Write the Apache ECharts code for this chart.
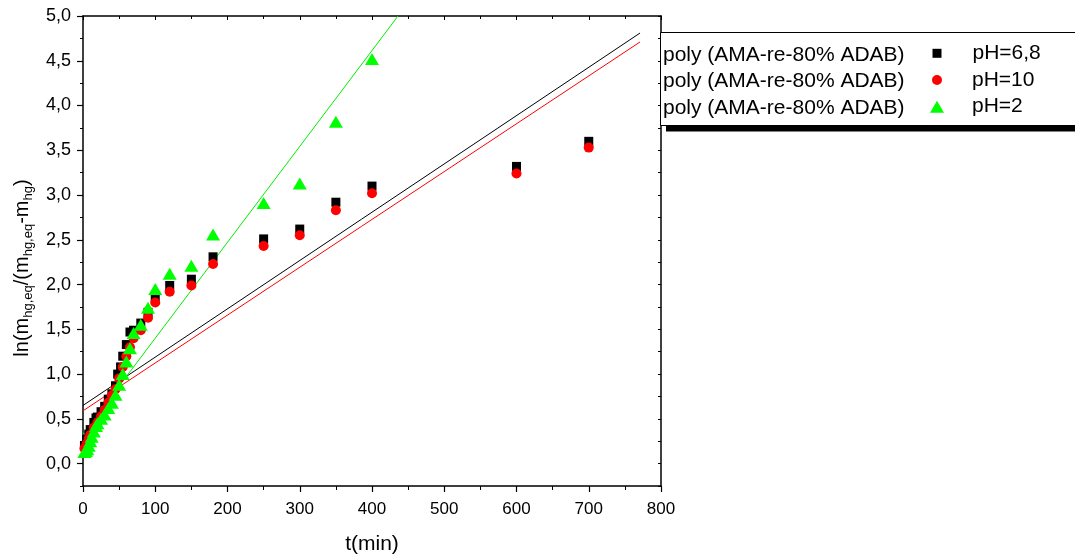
<!DOCTYPE html>
<html>
<head>
<meta charset="utf-8">
<script src="https://cdn.jsdelivr.net/npm/echarts@6/dist/echarts.min.js"></script>
<style>
html,body{margin:0;padding:0;background:#fff;}
#chart{width:1075px;height:559px;}
</style>
</head>
<body>
<div id="chart"></div>
<script>
// ---- data ----
var tBlack = [2, 5, 8, 10, 15, 18, 20, 25, 30, 35, 40, 45, 48, 52, 55, 60, 65, 70, 80, 90, 100, 120, 150, 180, 250, 300, 350, 400, 600, 700];
var yBlack = [0.20, 0.27, 0.33, 0.38, 0.46, 0.51, 0.52, 0.58, 0.64, 0.72, 0.78, 0.87, 1.00, 1.08, 1.20, 1.33, 1.47, 1.49, 1.57, 1.69, 1.86, 1.99, 2.06, 2.31, 2.51, 2.62, 2.92, 3.10, 3.32, 3.60];

var tRed = [2, 5, 8, 10, 15, 20, 25, 30, 35, 40, 45, 50, 55, 60, 65, 70, 80, 90, 100, 120, 150, 180, 250, 300, 350, 400, 600, 700];
var yRed = [0.17, 0.22, 0.28, 0.32, 0.40, 0.46, 0.53, 0.60, 0.68, 0.76, 0.83, 0.95, 1.08, 1.20, 1.30, 1.40, 1.49, 1.63, 1.80, 1.92, 1.99, 2.23, 2.43, 2.55, 2.83, 3.02, 3.24, 3.53];

var tGreen = [2, 4, 6, 8, 10, 12, 15, 18, 20, 25, 30, 35, 40, 45, 50, 55, 60, 65, 70, 80, 90, 100, 120, 150, 180, 250, 300, 350, 400];
var yGreen = [0.13, 0.14, 0.16, 0.20, 0.25, 0.30, 0.36, 0.42, 0.45, 0.50, 0.55, 0.62, 0.68, 0.77, 0.88, 1.00, 1.14, 1.29, 1.46, 1.55, 1.74, 1.95, 2.12, 2.21, 2.56, 2.91, 3.13, 3.82, 4.52];

// fitted straight lines: [t, y] end points
var fitBlack = [[0, 0.65], [771, 4.81]];
var fitRed = [[0, 0.59], [771, 4.71]];
var fitGreen = [[0, 0.33], [436, 5.0]];

var xTicks = [0, 100, 200, 300, 400, 500, 600, 700, 800];
var yTicks = [0, 0.5, 1, 1.5, 2, 2.5, 3, 3.5, 4, 4.5, 5];

var seriesNames = ['pH=6,8', 'pH=10', 'pH=2'];
var sampleName = 'poly (AMA-re-80% ADAB)';

function pairs(xs, ys) { return xs.map(function (x, i) { return [x, ys[i]]; }); }

var chart = echarts.init(document.getElementById('chart'));
var font = 'Arial, "Liberation Sans", sans-serif';
var axisLineStyle = { color: '#000', width: 1.5 };

function yFmt(v) { return v.toFixed(1).replace('.', ','); }

var legendText = { fontFamily: font, fontSize: 21, color: '#000', lineHeight: 22 };

var option = {
  backgroundColor: '#fff',
  animation: false,
  grid: { left: 83, right: 414, top: 16, bottom: 73, containLabel: false, outerBoundsMode: 'none' },
  xAxis: [{
    type: 'value', min: 0, max: 800, interval: 100, position: 'bottom',
    name: 't(min)', nameLocation: 'middle', nameGap: 48,
    nameTextStyle: { fontFamily: font, fontSize: 21, color: '#000' },
    axisLine: { show: true, onZero: false, lineStyle: axisLineStyle },
    axisTick: { show: true, length: 6, inside: false, lineStyle: { color: '#000', width: 1.2 }, customValues: xTicks },
    minorTick: { show: true, splitNumber: 2, length: 4, lineStyle: { color: '#000', width: 1 } },
    axisLabel: { fontFamily: font, fontSize: 17, color: '#000', margin: 15, customValues: xTicks },
    splitLine: { show: false }
  }, {
    type: 'value', min: 0, max: 800, interval: 100, position: 'top',
    axisLine: { show: true, onZero: false, lineStyle: axisLineStyle },
    axisTick: { show: true, length: 4, inside: true, lineStyle: { color: '#000', width: 1 } },
    minorTick: { show: true, splitNumber: 2, length: 3, lineStyle: { color: '#000', width: 1 } },
    axisLabel: { show: false },
    splitLine: { show: false }
  }],
  yAxis: [{
    type: 'value', min: -0.25, max: 5, interval: 0.25, position: 'left',
    name: '{n|ln(m}{s|hg,eq}{n|/(m}{s|hg,eq}{n|-m}{s|hg}{n|)}',
    nameLocation: 'middle', nameGap: 48,
    nameTextStyle: {
      fontFamily: font, color: '#000', padding: [0, 34, 0, 0],
      rich: {
        n: { fontFamily: font, fontSize: 20, color: '#000', lineHeight: 26 },
        s: { fontFamily: font, fontSize: 13, color: '#000', lineHeight: 26, verticalAlign: 'bottom', padding: [11, 0, 0, 0] }
      }
    },
    axisLine: { show: true, onZero: false, lineStyle: axisLineStyle },
    axisTick: { show: true, length: 6, lineStyle: { color: '#000', width: 1.2 }, customValues: yTicks },
    axisLabel: { fontFamily: font, fontSize: 18, color: '#000', margin: 12, customValues: yTicks, formatter: yFmt },
    splitLine: { show: false }
  }, {
    type: 'value', min: -0.25, max: 5, interval: 0.25, position: 'left',
    axisLine: { show: false, onZero: false },
    axisTick: { show: true, length: 3, lineStyle: { color: '#000', width: 1 } },
    axisLabel: { show: false },
    splitLine: { show: false }
  }, {
    type: 'value', min: -0.25, max: 5, interval: 0.25, position: 'right',
    axisLine: { show: true, onZero: false, lineStyle: axisLineStyle },
    axisTick: { show: true, length: 3, inside: true, lineStyle: { color: '#000', width: 1 } },
    axisLabel: { show: false },
    splitLine: { show: false }
  }],
  legend: [
    { z: 20, padding: 0, data: [seriesNames[0]], icon: 'rect', itemWidth: 9, itemHeight: 9, itemGap: 0, left: 932.5, top: 42.3, orient: 'vertical',
      textStyle: Object.assign({}, legendText, { padding: [0, 0, 0, 26] }) },
    { z: 20, padding: 0, data: [seriesNames[1]], icon: 'circle', itemWidth: 10, itemHeight: 10, itemGap: 0, left: 932, top: 69, orient: 'vertical',
      textStyle: Object.assign({}, legendText, { padding: [0, 0, 0, 25] }) },
    { z: 20, padding: 0, data: [seriesNames[2]], icon: 'triangle', itemWidth: 14, itemHeight: 12, itemGap: 0, left: 930, top: 95.7, orient: 'vertical',
      textStyle: Object.assign({}, legendText, { padding: [0, 0, 0, 23] }) }
  ],
  graphic: [
    { type: 'rect', z: 5, shape: { x: 660.5, y: 32.5, width: 420, height: 93 }, style: { fill: '#fff', stroke: '#000', lineWidth: 1 } },
    { type: 'rect', z: 4, shape: { x: 666, y: 126, width: 420, height: 5.5 }, style: { fill: '#000' } },
    { type: 'text', z: 11, left: 663, top: 44.5, style: { text: sampleName, font: '21px ' + font, fill: '#000' } },
    { type: 'text', z: 11, left: 663, top: 71.2, style: { text: sampleName, font: '21px ' + font, fill: '#000' } },
    { type: 'text', z: 11, left: 663, top: 97.9, style: { text: sampleName, font: '21px ' + font, fill: '#000' } }
  ],
  series: [
    { name: 'fit ' + seriesNames[0], type: 'line', data: fitBlack, showSymbol: false, symbol: 'none',
      lineStyle: { color: '#000', width: 1 }, z: 1, silent: true },
    { name: 'fit ' + seriesNames[1], type: 'line', data: fitRed, showSymbol: false, symbol: 'none',
      lineStyle: { color: '#ff0000', width: 1 }, z: 1, silent: true },
    { name: 'fit ' + seriesNames[2], type: 'line', data: fitGreen, showSymbol: false, symbol: 'none',
      lineStyle: { color: '#00ee00', width: 1 }, z: 1, silent: true },
    { name: seriesNames[0], type: 'scatter', data: pairs(tBlack, yBlack), symbol: 'rect', symbolSize: 9,
      itemStyle: { color: '#000', opacity: 1 }, z: 2 },
    { name: seriesNames[1], type: 'scatter', data: pairs(tRed, yRed), symbol: 'circle', symbolSize: 10,
      itemStyle: { color: '#ff0000', opacity: 1 }, z: 3 },
    { name: seriesNames[2], type: 'scatter', data: pairs(tGreen, yGreen), symbol: 'triangle', symbolSize: [14, 12],
      itemStyle: { color: '#00ff00', opacity: 1 }, z: 4 }
  ]
};
chart.setOption(option);
</script>
</body>
</html>
